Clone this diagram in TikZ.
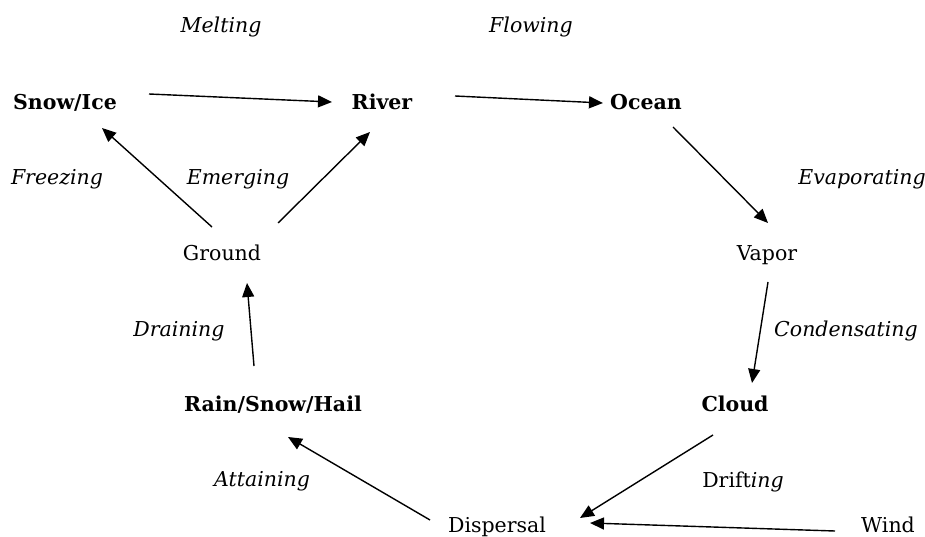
\documentclass[tikz,border=0pt]{standalone}
\usepackage{fontspec}
\setmainfont{DejaVu Serif}
\usetikzlibrary{arrows.meta}
\begin{document}
\begin{tikzpicture}[x=1pt,y=-1pt]
		\tikzstyle{Stage} = [anchor=base, inner sep=0pt, font=\fontsize{20.5}{24}\selectfont\bfseries]
		\tikzstyle{Place} = [anchor=base, inner sep=0pt, font=\fontsize{20.5}{24}\selectfont]
		\tikzstyle{Process} = [anchor=base, inner sep=0pt, font=\fontsize{20.5}{24}\selectfont\itshape]
		\tikzstyle{arrow} = [line width=1.4pt,-{Triangle[length=14pt,width=12pt]}]
		
		\useasboundingbox (0,0) rectangle (925,537);
		\node (melt) [Process] at (221,33) {Melting};
		\node (flow) [Process] at (531,33) {Flowing};
		\node (snow) [Stage] at (65,110) {Snow/Ice};
		\node (river) [Stage] at (382,110) {River};
		\node (ocean) [Stage] at (646,110) {Ocean};
		\node (freeze) [Process] at (57,185) {Freezing};
		\node (emerge) [Process] at (238,185) {Emerging};
		\node (evap) [Process] at (862,185) {Evaporating};
		\node (ground) [Place] at (222,260) {Ground};
		\node (vapor) [Place] at (767,260) {Vapor};
		\node (drain) [Process] at (179,336) {Draining};
		\node (condense) [Process] at (846,336) {Condensating};
		\node (rain) [Stage] at (273,411) {Rain/Snow/Hail};
		\node (cloud) [Stage] at (735,411) {Cloud};
		\node (attain) [Process] at (262,486) {Attaining};
		\node (drift) [Place] at (743,487) {Drift\textit{ing}};
		\node (disp) [Place] at (497,532) {Dispersal};
		\node (wind) [Place] at (888,532) {Wind};
		\draw [arrow] ([shift={(84,-16)}]snow.base) -- ([shift={(-50,-8)}]river.base);
		\draw [arrow] ([shift={(73,-14)}]river.base) -- ([shift={(-43,-7)}]ocean.base);
		\draw [arrow] ([shift={(27,17)}]ocean.base) -- ([shift={(1,-37)}]vapor.base);
		\draw [arrow] ([shift={(1,22)}]vapor.base) -- ([shift={(17,-28)}]cloud.base);
		\draw [arrow] ([shift={(-22,24)}]cloud.base) -- ([shift={(83,-14)}]disp.base);
		\draw [arrow] ([shift={(-53,-1)}]wind.base) -- ([shift={(93,-9)}]disp.base);
		\draw [arrow] ([shift={(-67,-12)}]disp.base) -- ([shift={(15,26)}]rain.base);
		\draw [arrow] ([shift={(-19,-45)}]rain.base) -- ([shift={(25,23)}]ground.base);
		\draw [arrow] ([shift={(-10,-33)}]ground.base) -- ([shift={(37,18)}]snow.base);
		\draw [arrow] ([shift={(56,-37)}]ground.base) -- ([shift={(-12,22)}]river.base);
\end{tikzpicture}
\end{document}
